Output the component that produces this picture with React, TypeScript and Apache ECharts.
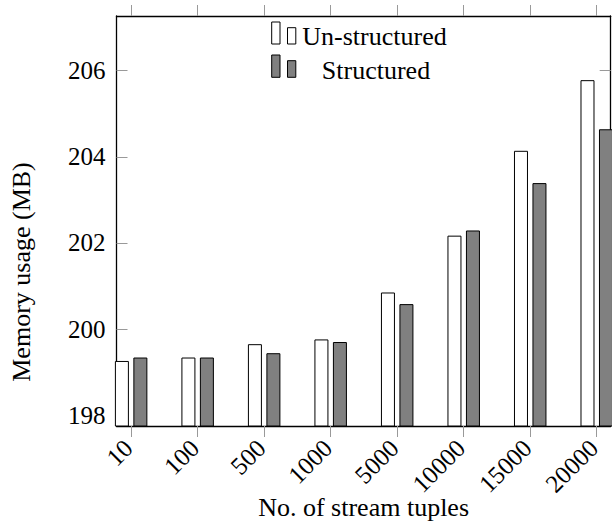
import React, { useEffect, useRef } from 'react';
import * as echarts from 'echarts';

const categories = ['10', '100', '500', '1000', '5000', '10000', '15000', '20000'];
const unstructured = [199.26, 199.34, 199.65, 199.76, 200.85, 202.17, 204.14, 205.78];
const structured = [199.34, 199.34, 199.44, 199.70, 200.58, 202.29, 203.39, 204.64];
const yTicks = [198, 200, 202, 204, 206];
const seriesNames = ['Un-structured', 'Structured'];

export default function App() {
  const ref = useRef<HTMLDivElement>(null);
  useEffect(() => {
    const chart = echarts.init(ref.current!, null, { renderer: 'svg' });
    const font = "'Liberation Serif', 'Times New Roman', 'DejaVu Serif', serif";
    const xIdx = categories.map((_, i) => i);
    const tickStyle = { show: true, length: 11, lineStyle: { color: '#999', width: 1 } };
    const axisLine = { show: true, onZero: false, lineStyle: { color: '#000', width: 1.3 } };
    const xMin = -0.22, xMax = 7.21, yMin = 197.75, yMax = 207.27;
    const legendBox = (x: number, y: number, w: number, h: number, fill: string) => ({
      type: 'rect', shape: { x, y, width: w, height: h },
      style: { fill, stroke: '#000', lineWidth: 1 }, z: 100,
    });
    const option: any = {
      animation: false,
      backgroundColor: '#fff',
      grid: { left: 116.5, right: 1.3, top: 16, bottom: 95, containLabel: false },
      xAxis: [
        {
          type: 'value', position: 'bottom', min: xMin, max: xMax,
          axisLine,
          axisTick: { ...tickStyle, inside: false, customValues: xIdx },
          axisLabel: {
            show: true, customValues: xIdx, rotate: 45, margin: 15,
            padding: [0, 4, 0, 0],
            fontFamily: font, fontSize: 25, color: '#000',
            formatter: (v: number) => categories[Math.round(v)] ?? '',
          },
          splitLine: { show: false },
        },
        {
          type: 'value', position: 'top', min: xMin, max: xMax,
          axisLine,
          axisTick: { ...tickStyle, inside: false, customValues: xIdx },
          axisLabel: { show: false },
          splitLine: { show: false },
        },
      ],
      yAxis: [
        {
          type: 'value', position: 'left', min: yMin, max: yMax,
          axisLine,
          axisTick: { ...tickStyle, inside: true, customValues: yTicks },
          axisLabel: {
            show: true, customValues: yTicks, margin: 11,
            fontFamily: font, fontSize: 25, color: '#000',
          },
          splitLine: { show: false },
        },
        {
          type: 'value', position: 'right', min: yMin, max: yMax,
          axisLine,
          axisTick: { ...tickStyle, inside: true, customValues: yTicks },
          axisLabel: { show: false },
          splitLine: { show: false },
        },
      ],
      series: [
        {
          name: seriesNames[0], type: 'bar', xAxisIndex: 0, yAxisIndex: 0,
          barWidth: 14, barGap: '32%',
          data: unstructured.map((v, i) => [i, v]),
          itemStyle: { color: '#fff', borderColor: '#000', borderWidth: 1 },
          clip: true,
        },
        {
          name: seriesNames[1], type: 'bar', xAxisIndex: 0, yAxisIndex: 0,
          barWidth: 14, barGap: '32%',
          data: structured.map((v, i) => [i, v]),
          itemStyle: { color: '#808080', borderColor: '#000', borderWidth: 1 },
          clip: true,
        },
      ],
      graphic: [
        legendBox(271.7, 22, 8.3, 22, '#fff'),
        legendBox(287.5, 27.7, 8.3, 16.3, '#fff'),
        legendBox(271.7, 55, 8.3, 22.3, '#808080'),
        legendBox(287.5, 60.7, 8.3, 16.6, '#808080'),
        {
          type: 'text', x: 374.5, y: 36, z: 100,
          style: { text: seriesNames[0], fontFamily: font, fontSize: 26, fill: '#000', textAlign: 'center', textVerticalAlign: 'middle' },
        },
        {
          type: 'text', x: 376, y: 70, z: 100,
          style: { text: seriesNames[1], fontFamily: font, fontSize: 26, fill: '#000', textAlign: 'center', textVerticalAlign: 'middle' },
        },
        {
          type: 'text', x: 21, y: 272, rotation: Math.PI / 2, z: 100,
          style: { text: 'Memory usage (MB)', fontFamily: font, fontSize: 26, fill: '#000', textAlign: 'center', textVerticalAlign: 'middle' },
        },
        {
          type: 'text', x: 363.6, y: 507, z: 100,
          style: { text: 'No. of stream tuples', fontFamily: font, fontSize: 26, fill: '#000', textAlign: 'center', textVerticalAlign: 'middle' },
        },
      ],
    };
    chart.setOption(option);
    return () => chart.dispose();
  }, []);
  return <div ref={ref} style={{ position: 'fixed', left: 0, top: 0, width: 612, height: 521 }} />;
}
